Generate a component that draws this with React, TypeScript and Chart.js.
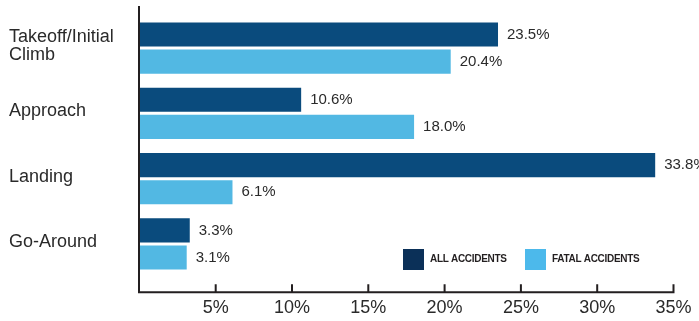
import React, { useEffect, useRef } from "react";
import { Chart, registerables } from "chart.js";

Chart.register(...registerables);

const categories: (string | string[])[] = [["Takeoff/Initial", "Climb"], "Approach", "Landing", "Go-Around"];
const allAccidents = [23.5, 10.6, 33.8, 3.3];
const fatalAccidents = [20.4, 18.0, 6.1, 3.1];
const seriesNames = ["ALL ACCIDENTS", "FATAL ACCIDENTS"];
const xTickValues = [5, 10, 15, 20, 25, 30, 35];

const DARK = "#0a4b7d";
const LIGHT = "#52b8e3";
const LEGEND_DARK = "#0b3058";
const LEGEND_LIGHT = "#4cb9eb";
const TEXT = "#2a2a2a";
const AXIS = "#231f20";
const FONT = "'Liberation Sans', Arial, Helvetica, sans-serif";

const decorPlugin = {
  id: "decor",
  afterDatasetsDraw(chart: any) {
    const { ctx, chartArea, scales } = chart;
    const x = scales.x;
    ctx.save();
    // value labels
    ctx.font = `15px ${FONT}`;
    ctx.fillStyle = TEXT;
    ctx.textAlign = "left";
    ctx.textBaseline = "middle";
    chart.data.datasets.forEach((ds: any, di: number) => {
      const meta = chart.getDatasetMeta(di);
      meta.data.forEach((el: any, i: number) => {
        ctx.fillText(ds.data[i].toFixed(1) + "%", el.x + 9, el.y);
      });
    });
    // axes
    const x0 = x.getPixelForValue(0) - 0.4;
    const xEnd = x.getPixelForValue(35);
    const yBottom = chartArea.bottom + 15.7;
    ctx.strokeStyle = AXIS;
    ctx.lineWidth = 2;
    ctx.beginPath();
    ctx.moveTo(x0, chartArea.top - 9.5);
    ctx.lineTo(x0, yBottom + 1);
    ctx.moveTo(x0 - 1, yBottom);
    ctx.lineTo(xEnd + 1, yBottom);
    xTickValues.forEach((v) => {
      const px = x.getPixelForValue(v);
      ctx.moveTo(px, yBottom);
      ctx.lineTo(px, yBottom - 8);
    });
    ctx.stroke();
    // legend
    const colors = [LEGEND_DARK, LEGEND_LIGHT];
    const lx = [403, 525];
    ctx.font = `bold 10px ${FONT}`;
    (ctx as any).letterSpacing = "-0.3px";
    ctx.textBaseline = "middle";
    seriesNames.forEach((name, i) => {
      ctx.fillStyle = colors[i];
      ctx.fillRect(lx[i], 249, 21, 21);
      ctx.fillStyle = AXIS;
      ctx.fillText(name, lx[i] + 27, 259);
    });
    ctx.restore();
  },
};

export default function App() {
  const ref = useRef<HTMLCanvasElement>(null);
  useEffect(() => {
    if (!ref.current) return;
    const chart = new Chart(ref.current, {
      type: "bar",
      data: {
        labels: categories,
        datasets: [
          { label: seriesNames[0], data: allAccidents, backgroundColor: DARK, categoryPercentage: 0.83, barPercentage: 0.89 },
          { label: seriesNames[1], data: fatalAccidents, backgroundColor: LIGHT, categoryPercentage: 0.83, barPercentage: 0.89 },
        ],
      },
      options: {
        indexAxis: "y",
        animation: false,
        responsive: true,
        maintainAspectRatio: false,
        layout: { padding: { left: 9, top: 15.4, right: 25.5, bottom: 0 } },
        plugins: { legend: { display: false }, tooltip: { enabled: false } },
        scales: {
          x: {
            min: 0,
            max: 35,
            grid: { display: false, drawTicks: false },
            border: { display: false },
            afterFit: (s: any) => { s.height = 44.4; s.paddingLeft = 0; s.paddingRight = 0; },
            ticks: {
              stepSize: 5,
              padding: 21,
              color: TEXT,
              font: { size: 18, family: FONT },
              callback: (v: any) => (v === 0 ? "" : v + "%"),
            },
          },
          y: {
            grid: { display: false, drawTicks: false },
            border: { display: false },
            afterFit: (s: any) => { s.width = 130.4; s.paddingTop = 0; s.paddingBottom = 0; },
            ticks: {
              crossAlign: "far",
              color: TEXT,
              labelOffset: -2,
              font: { size: 18, family: FONT, lineHeight: 1.05 },
            },
          },
        },
      },
      plugins: [decorPlugin],
    });
    return () => chart.destroy();
  }, []);
  return (
    <div style={{ position: "absolute", left: 0, top: 0, width: 699, height: 321 }}>
      <canvas ref={ref} />
    </div>
  );
}
